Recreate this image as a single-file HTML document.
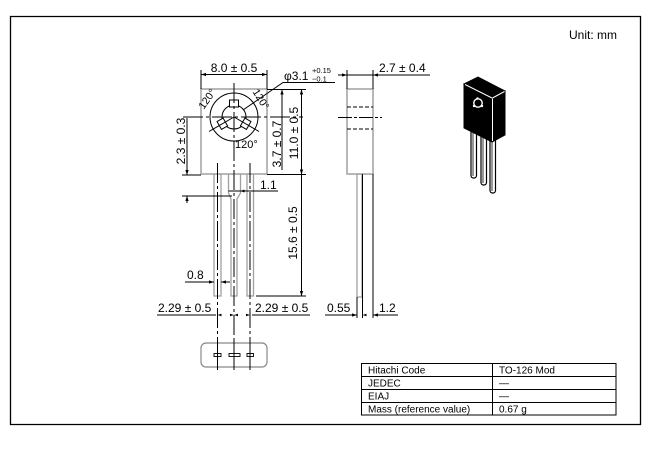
<!DOCTYPE html>
<html>
<head>
<meta charset="utf-8">
<style>
html,body{margin:0;padding:0;background:#fff;}
svg{display:block;}
</style>
</head>
<body>
<svg width="651" height="456" viewBox="0 0 651 456" xmlns="http://www.w3.org/2000/svg" font-family="'Liberation Sans', Arial, sans-serif">
<defs>
<marker id="a" viewBox="0 0 6 4" refX="6" refY="2" markerWidth="5" markerHeight="3.5" markerUnits="userSpaceOnUse" orient="auto-start-reverse">
<path d="M0,0 L6,2 L0,4 Z" fill="#000"/>
</marker>
</defs>
<rect width="651" height="456" fill="#fff"/>

<!-- frame -->
<path d="M10.5 424.5 V16.5 H640.5 V424.5 Z" fill="none" stroke="#000" stroke-width="1.3"/>
<text x="617" y="39" font-size="12" text-anchor="end">Unit: mm</text>

<!-- ============ FRONT VIEW ============ -->
<!-- leads -->
<g fill="#fff" stroke="#a0a0a0" stroke-width="1.3">
  <rect x="214" y="174" width="7" height="122"/>
  <path d="M228.5 174 V193 L231 199 V296 H237 V199 L240.5 193 V174"/>
  <rect x="247" y="174" width="6.5" height="122"/>
</g>
<!-- body -->
<rect x="201" y="89" width="66" height="85" fill="#fff" stroke="#a0a0a0" stroke-width="1.5"/>

<!-- circles -->
<circle cx="234" cy="117" r="24" fill="none" stroke="#000" stroke-width="1"/>
<circle cx="234" cy="117" r="12" fill="none" stroke="#000" stroke-width="1"/>
<g fill="#fff" stroke="#000" stroke-width="1">
  <rect x="229.5" y="100" width="9" height="7"/>
  <rect x="229.5" y="100" width="9" height="7" transform="rotate(120 234 117)"/>
  <rect x="229.5" y="100" width="9" height="7" transform="rotate(240 234 117)"/>
</g>
<g stroke="#000" stroke-width="1" fill="none">
  <line x1="234" y1="117" x2="209" y2="131.5"/>
  <line x1="234" y1="117" x2="259" y2="131.5"/>
</g>
<!-- centerlines -->
<g stroke="#000" stroke-width="1" fill="none" stroke-dasharray="20,3,3,3">
  <line x1="234" y1="83" x2="234" y2="370"/>
  <line x1="183" y1="117" x2="303" y2="117"/>
  <line x1="217.5" y1="163" x2="217.5" y2="370"/>
  <line x1="250" y1="163" x2="250" y2="370"/>
</g>

<!-- angle labels -->
<text font-size="10.5" text-anchor="middle" transform="translate(210 101) rotate(-55)">120°</text>
<text font-size="10.5" text-anchor="middle" transform="translate(258 101) rotate(58)">120°</text>
<text x="235" y="148" font-size="11">120°</text>

<!-- phi leader -->
<path d="M243 110 L283 82.5 H335" fill="none" stroke="#000" stroke-width="1"/>
<text x="284" y="80" font-size="12">φ3.1</text>
<text x="312" y="73" font-size="7.5">+0.15</text>
<text x="312" y="81.5" font-size="7.5">−0.1</text>

<!-- 8.0 dimension -->
<g stroke="#000" stroke-width="1" fill="none">
  <line x1="201" y1="70" x2="201" y2="89"/>
  <line x1="267" y1="70" x2="267" y2="89"/>
  <line x1="201" y1="74.5" x2="267" y2="74.5" marker-start="url(#a)" marker-end="url(#a)"/>
</g>
<text x="234" y="72" font-size="12" text-anchor="middle">8.0 ± 0.5</text>

<!-- right side dims of front view -->
<g stroke="#000" stroke-width="1" fill="none">
  <line x1="267" y1="89.5" x2="306" y2="89.5"/>
  <line x1="267" y1="174.5" x2="306" y2="174.5"/>
  <line x1="256" y1="296" x2="306" y2="296"/>
  <line x1="301.5" y1="89.5" x2="301.5" y2="174.5" marker-start="url(#a)" marker-end="url(#a)"/>
  <line x1="301.5" y1="174.5" x2="301.5" y2="296" marker-end="url(#a)"/>
  <line x1="282" y1="89.5" x2="282" y2="170" marker-start="url(#a)"/>
</g>
<text font-size="12" text-anchor="middle" transform="translate(298 133) rotate(-90)">11.0 ± 0.5</text>
<text font-size="12" text-anchor="middle" transform="translate(281 144) rotate(-90)">3.7 ± 0.7</text>
<text font-size="12" text-anchor="middle" transform="translate(297 233) rotate(-90)">15.6 ± 0.5</text>

<!-- 2.3 dim -->
<g stroke="#000" stroke-width="1" fill="none">
  <line x1="182" y1="175" x2="201" y2="175"/>
  <line x1="182" y1="196" x2="232" y2="196"/>
  <line x1="187" y1="118" x2="187" y2="175" marker-end="url(#a)"/>
  <line x1="187" y1="203" x2="187" y2="196" marker-end="url(#a)"/>
</g>
<text font-size="12" text-anchor="middle" transform="translate(185 141) rotate(-90)">2.3 ± 0.3</text>

<!-- 1.1 -->
<line x1="228.5" y1="191" x2="278" y2="191" stroke="#000" stroke-width="1"/>
<path d="M240.5 191 l4 -1.5 v3 z" fill="#000"/>
<text x="260" y="189" font-size="12">1.1</text>

<!-- 0.8 -->
<g stroke="#000" stroke-width="1" fill="none">
  <line x1="185" y1="282" x2="214" y2="282" marker-end="url(#a)"/>
  <line x1="230" y1="282" x2="221" y2="282" marker-end="url(#a)"/>
</g>
<text x="187" y="279" font-size="12">0.8</text>

<!-- 2.29 dims -->
<g stroke="#000" stroke-width="1" fill="none">
  <line x1="157" y1="315" x2="216" y2="315"/>
  <line x1="252" y1="315" x2="310" y2="315"/>
</g>
<g fill="#000">
  <path d="M217.5 315 l4 -1.3 v2.6 z"/>
  <path d="M234 315 l-4 -1.3 v2.6 z"/>
  <path d="M234 315 l4 -1.3 v2.6 z"/>
  <path d="M250 315 l-4 -1.3 v2.6 z"/>
</g>
<text x="158" y="312" font-size="12">2.29 ± 0.5</text>
<text x="255" y="312" font-size="12">2.29 ± 0.5</text>

<!-- end view -->
<rect x="201" y="343" width="66" height="24" rx="5" fill="none" stroke="#888" stroke-width="1.2"/>
<g fill="#fff" stroke="#000" stroke-width="0.9">
  <rect x="214" y="353.5" width="7" height="3"/>
  <rect x="229" y="353.5" width="11" height="3"/>
  <rect x="247" y="353.5" width="6.5" height="3"/>
</g>
<g stroke="#000" stroke-width="1">
  <line x1="217.5" y1="340" x2="217.5" y2="370"/>
  <line x1="234" y1="340" x2="234" y2="370"/>
  <line x1="250" y1="340" x2="250" y2="370"/>
</g>

<!-- ============ SIDE VIEW ============ -->
<rect x="357" y="174" width="5" height="123" fill="#fff" stroke="#a0a0a0" stroke-width="1.3"/>
<rect x="347" y="89" width="26" height="85" fill="#fff" stroke="#a0a0a0" stroke-width="1.5"/>
<g stroke="#000" stroke-width="1" fill="none">
  <line x1="347" y1="107" x2="373" y2="107" stroke-dasharray="4,2"/>
  <line x1="347" y1="129" x2="373" y2="129" stroke-dasharray="4,2"/>
  <line x1="338" y1="117.5" x2="382" y2="117.5" stroke-dasharray="14,2,3,2"/>
  <line x1="347" y1="70" x2="347" y2="89"/>
  <line x1="373" y1="70" x2="373" y2="89"/>
  <line x1="338" y1="75" x2="347" y2="75" marker-end="url(#a)"/>
  <line x1="430" y1="75" x2="373" y2="75" marker-end="url(#a)"/>
  <line x1="347" y1="75" x2="373" y2="75"/>
  <line x1="362.5" y1="174" x2="362.5" y2="318"/>
  <line x1="373" y1="174" x2="373" y2="318"/>
  <line x1="357" y1="297" x2="357" y2="318"/>
  <line x1="325" y1="315" x2="357" y2="315" marker-end="url(#a)"/>
  <line x1="398" y1="315" x2="373" y2="315" marker-end="url(#a)"/>
</g>
<path d="M362.5 315 l4 -1.3 v2.6 z" fill="#000"/>
<text x="379" y="72" font-size="12">2.7 ± 0.4</text>
<text x="327" y="312" font-size="12">0.55</text>
<text x="379" y="312" font-size="12">1.2</text>

<!-- ============ 3D ICON ============ -->
<g stroke="#000" stroke-width="1.2" fill="#fff">
  <rect x="471" y="125" width="5.5" height="53" rx="2.5"/>
  <rect x="481" y="130" width="5.5" height="55" rx="2.5"/>
  <rect x="490" y="135" width="5.5" height="58" rx="2.5"/>
</g>
<g stroke="#000" stroke-width="0.8">
  <line x1="473" y1="132" x2="473" y2="176"/>
  <line x1="483" y1="137" x2="483" y2="183"/>
  <line x1="492" y1="142" x2="492" y2="191"/>
</g>
<polygon points="464,84 478,77 505,91 492,98" fill="#000" stroke="#000" stroke-width="1"/>
<polygon points="492,98 505,91 505,135 492,142" fill="#000" stroke="#000" stroke-width="1"/>
<polygon points="464,84 492,98 492,142 464,128" fill="#000" stroke="#000" stroke-width="1"/>
<g stroke="#fff" stroke-width="1" fill="none">
  <line x1="465" y1="84.5" x2="492" y2="98"/>
  <line x1="492.5" y1="98.5" x2="492.5" y2="141"/>
  <line x1="492.5" y1="98" x2="504.5" y2="91.5"/>
  <circle cx="478" cy="103" r="4.2" stroke-width="1.4"/>
</g>
<g fill="#fff">
  <circle cx="477.5" cy="98.5" r="1.2"/>
  <circle cx="474" cy="106" r="1.2"/>
  <circle cx="482" cy="106" r="1.2"/>
</g>

<!-- ============ TABLE ============ -->
<g stroke="#000" stroke-width="1" fill="none">
  <rect x="361.5" y="363.5" width="254.5" height="51.5"/>
  <line x1="492.5" y1="363.5" x2="492.5" y2="415"/>
  <line x1="361.5" y1="376.5" x2="616" y2="376.5"/>
  <line x1="361.5" y1="389.5" x2="616" y2="389.5"/>
  <line x1="361.5" y1="402.5" x2="616" y2="402.5"/>
</g>
<g font-size="10">
  <text x="368" y="373.5">Hitachi Code</text>
  <text x="368" y="386.5">JEDEC</text>
  <text x="368" y="399.5">EIAJ</text>
  <text x="368" y="412.5">Mass (reference value)</text>
  <text x="499" y="373.5">TO-126 Mod</text>
  <text x="499" y="386.5">—</text>
  <text x="499" y="399.5">—</text>
  <text x="499" y="412.5">0.67 g</text>
</g>
</svg>
</body>
</html>
